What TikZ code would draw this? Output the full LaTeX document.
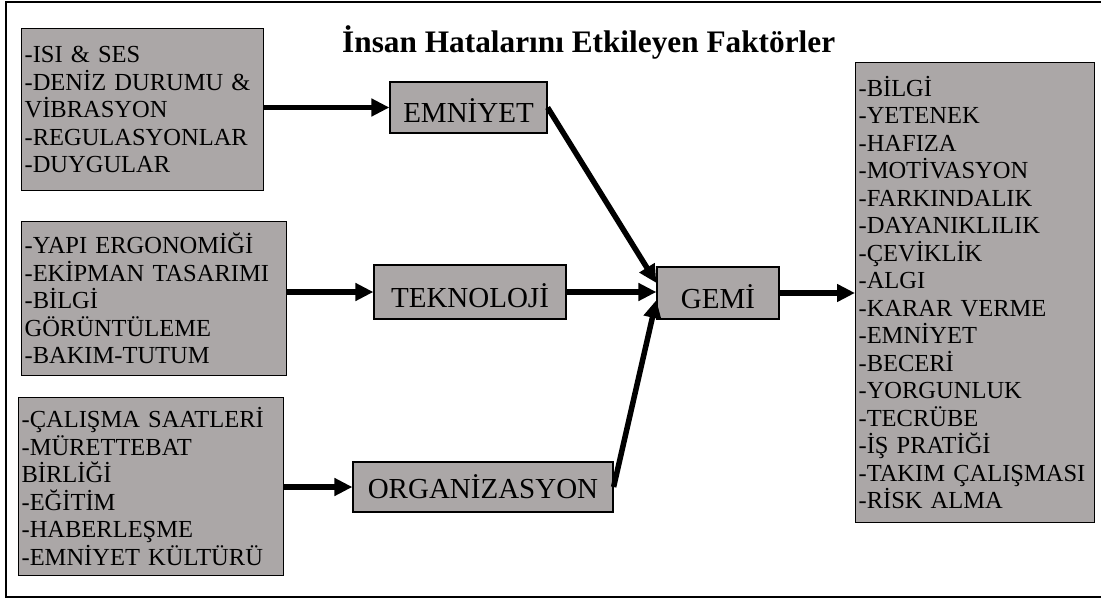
\documentclass[tikz,border=0pt]{standalone}
\usepackage{fontspec}
\setmainfont{Liberation Serif}
\usetikzlibrary{arrows.meta,calc}
\definecolor{boxgray}{RGB}{171,167,167}
\begin{document}
\begin{tikzpicture}[x=1pt,y=-1pt,
  listbox/.style={draw=black, line width=1.2pt, fill=boxgray, align=left,
    inner xsep=3pt, inner ysep=0pt, anchor=north west,
    font=\fontsize{24.5}{27.5}\selectfont},
  hubbox/.style={draw=black, line width=1.2pt, fill=boxgray, inner sep=0pt,
    text height=30pt, text depth=0pt, font=\fontsize{29}{31}\selectfont},
  flow/.style={line width=5.5pt, -{Triangle[length=18pt,width=17pt]}}]

\useasboundingbox (0,0) rectangle (1101,599);

% frame
\draw[line width=2pt, draw=black] (1103,2.5) -- (5.5,2.5) -- (5.5,596.5) -- (1103,596.5);

% heading on a white strip
\fill[white] (341,17) rectangle (853,63);
\node[anchor=base west, inner sep=0pt, font=\bfseries\fontsize{31.3}{33}\selectfont]
  (title) at (342,53) {İnsan Hatalarını Etkileyen Faktörler};

% factor lists
\node[listbox, minimum width=242, minimum height=162, text width=236] (b1) at (21,28)
  {-ISI \& SES\\-DENİZ DURUMU \&\\VİBRASYON\\-REGULASYONLAR\\-DUYGULAR};
\node[listbox, minimum width=265, minimum height=154, text width=259] (b2) at (21,221)
  {-YAPI ERGONOMİĞİ\\-EKİPMAN TASARIMI\\-BİLGİ\\GÖRÜNTÜLEME\\-BAKIM-TUTUM};
\node[listbox, minimum width=265, minimum height=178, text width=259] (b3) at (18,397)
  {-ÇALIŞMA SAATLERİ\\-MÜRETTEBAT\\BİRLİĞİ\\-EĞİTİM\\-HABERLEŞME\\-EMNİYET KÜLTÜRÜ};
\node[listbox, minimum width=239, minimum height=460, text width=233] (rb) at (855,62)
  {-BİLGİ\\-YETENEK\\-HAFIZA\\-MOTİVASYON\\-FARKINDALIK\\-DAYANIKLILIK\\-ÇEVİKLİK\\-ALGI\\-KARAR VERME\\-EMNİYET\\-BECERİ\\-YORGUNLUK\\-TECRÜBE\\-İŞ PRATİĞİ\\-TAKIM ÇALIŞMASI\\-RİSK ALMA};

% hubs
\node[hubbox, minimum width=157, minimum height=51] (emn) at (468.5,107.5) {EMNİYET};
\node[hubbox, minimum width=192, minimum height=54] (tek) at (470,292) {TEKNOLOJİ};
\node[hubbox, minimum width=260, minimum height=50, text height=22pt] (org) at (483,487) {ORGANİZASYON};
\node[hubbox, minimum width=122, minimum height=52] (gemi) at (718,293) {GEMİ};

% entry points on the ship box
\coordinate (g1) at ($(gemi.west)+(0,-10)$);
\coordinate (g2) at ($(gemi.west)+(0,-1)$);
\coordinate (g3) at ($(gemi.west)+(0,7)$);

% connectors
\draw[flow] (b1.east |- emn.west) -- (emn.west);
\draw[flow] (b2.east |- tek.west) -- (tek.west);
\draw[flow] (b3.east |- org.west) -- (org.west);
\draw[flow] (emn.east) -- (g1);
\draw[flow] (tek.east) -- (g2);
\draw[flow] (org.east) -- (g3);
\draw[flow] (gemi.east) -- (rb.west |- gemi.east);
\end{tikzpicture}
\end{document}
